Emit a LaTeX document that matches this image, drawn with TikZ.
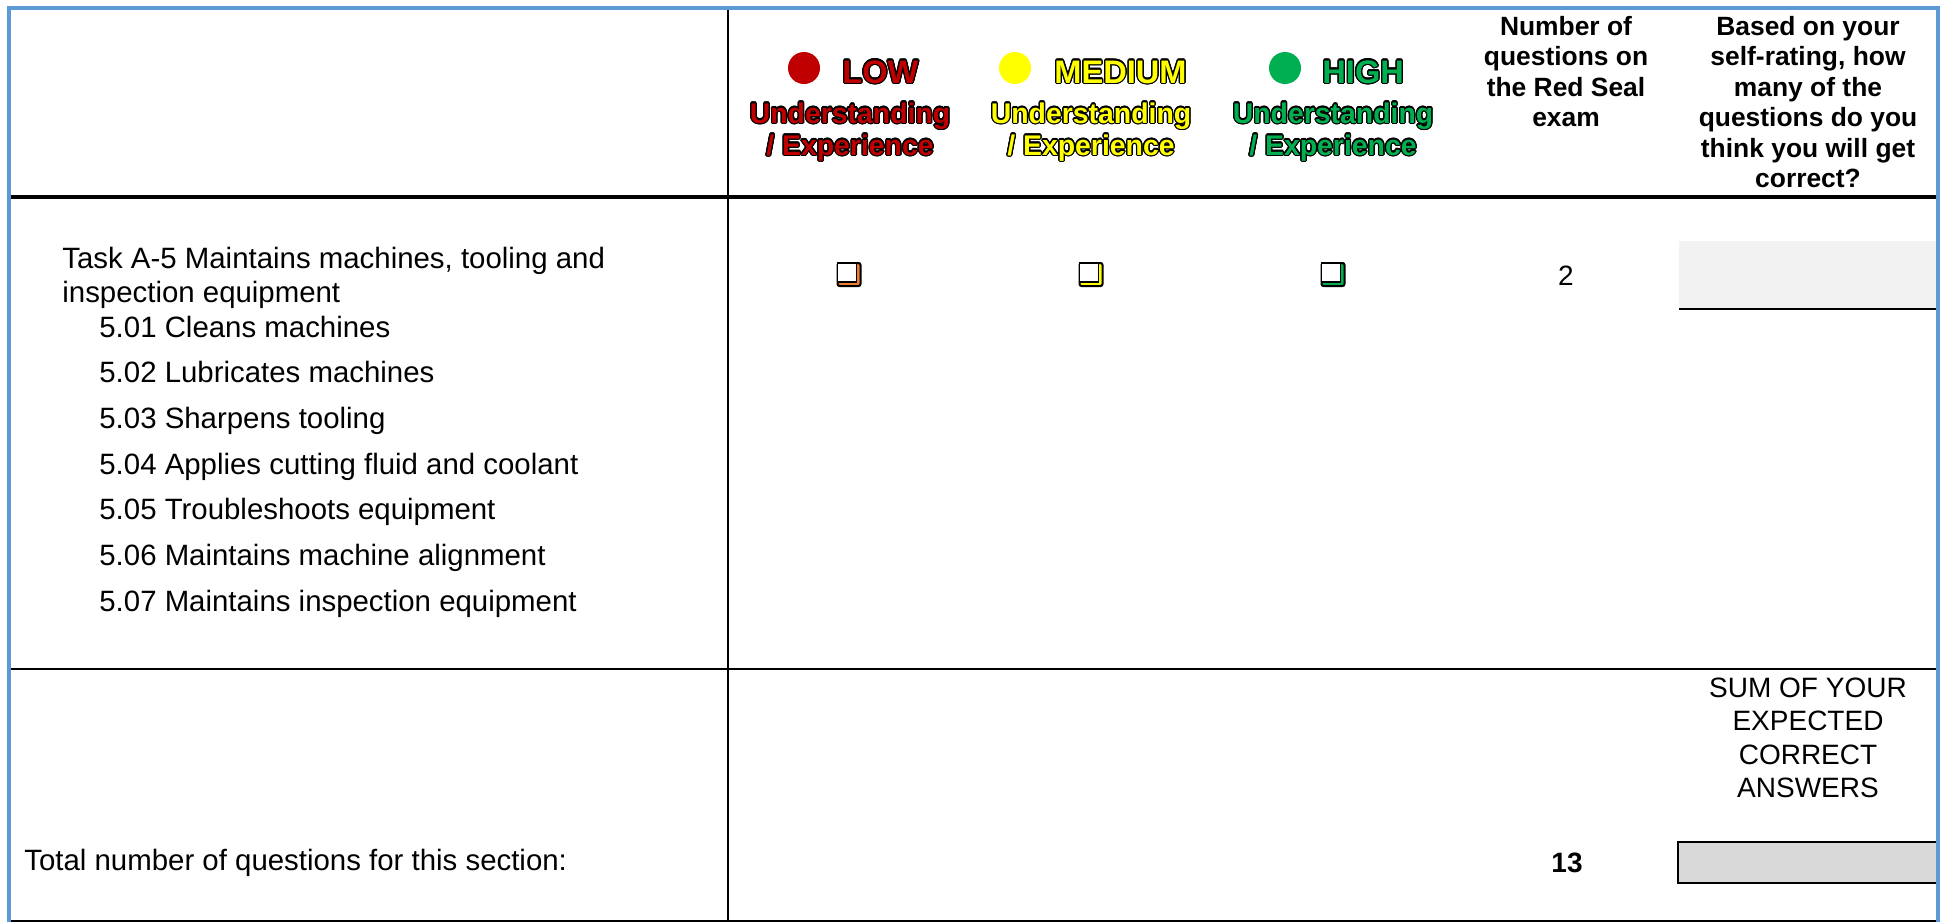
\documentclass[tikz,border=0pt]{standalone}
\usepackage{fontspec}
\setmainfont{Liberation Sans}
\usetikzlibrary{calc}
\definecolor{bord}{HTML}{5B9BD5}
\definecolor{lowred}{HTML}{C00000}
\definecolor{medyel}{HTML}{FFFF00}
\definecolor{higreen}{HTML}{00B050}
\definecolor{boxorange}{HTML}{ED7D31}
\definecolor{cellgrayA}{HTML}{F2F2F2}
\definecolor{cellgrayB}{HTML}{D9D9D9}
\tikzset{
  body/.style={font=\fontsize{14.7}{17}\selectfont, inner sep=0, anchor=base west},
  hdr/.style={font=\fontsize{13.2}{15}\selectfont\bfseries, inner sep=0, anchor=base},
  sumtxt/.style={font=\fontsize{14}{16}\selectfont, inner sep=0, anchor=base},
  oltbig/.style={font=\fontsize{16.3}{19}\selectfont\bfseries, inner sep=0},
  oltsmall/.style={font=\fontsize{14.2}{17}\selectfont\bfseries, inner sep=0},
  chkbox/.style={draw=black, line width=1pt, rounded corners=1pt, minimum size=11.5pt, inner sep=0},
  dot/.style={circle, minimum size=16pt, inner sep=0},
}
% outlined text: #1 name, #2 position, #3 anchor, #4 colour, #5 style, #6 text
\newcommand\outlinetext[6]{%
  \foreach \ang in {0,22.5,...,337.5}{%
    \node[#5, anchor=#3, text=black, shift={(\ang:1.3)}] (#1-\ang) at (#2) {#6};}
  \node[#5, anchor=#3, text=#4] (#1) at (#2) {#6};
}
% checkbox: #1 name, #2 position, #3 colour
\newcommand\checkbox[3]{%
  \node[chkbox, fill=#3] (#1) at (#2) {};
  \draw[line width=0.7pt, fill=white] ($(#1.north west)+(1,1)$) rectangle ($(#1.south east)+(-5,-5)$);
}
\begin{document}
\begin{tikzpicture}[x=0.5pt, y=-0.5pt]
\useasboundingbox (0,0) rectangle (1944,922);
% cell fills
\fill[cellgrayA] (1679,241) rectangle (1938,309);
\draw[line width=1pt] (1679,309) -- (1938,309);
\draw[line width=1pt, fill=cellgrayB] (1678,842) rectangle (1938,883);
% grid lines
\draw[line width=2.4pt] (9,197) -- (1938,197);
\draw[line width=1pt] (9,669) -- (1938,669);
\draw[line width=1pt] (9,921) -- (1938,921);
\draw[line width=1pt] (728,8) -- (728,922);
% blue frame
\draw[bord, line width=2pt] (9,922) -- (9,8) -- (1938,8) -- (1938,922);

% header: rating columns
\node[dot, fill=lowred] (dlow) at (804,68) {};
\node[dot, fill=medyel] (dmed) at (1015,68) {};
\node[dot, fill=higreen] (dhigh) at (1285,68) {};
\outlinetext{tlow}{842,83}{base west}{lowred}{oltbig}{LOW}
\outlinetext{tmed}{1054,83}{base west}{medyel}{oltbig}{MEDIUM}
\outlinetext{thigh}{1322,83}{base west}{higreen}{oltbig}{HIGH}
\outlinetext{ulow}{850,123}{base}{lowred}{oltsmall}{Understanding}
\outlinetext{elow}{850,155}{base}{lowred}{oltsmall}{/ Experience}
\outlinetext{umed}{1091,123}{base}{medyel}{oltsmall}{Understanding}
\outlinetext{emed}{1091,155}{base}{medyel}{oltsmall}{/ Experience}
\outlinetext{uhigh}{1333,123}{base}{higreen}{oltsmall}{Understanding}
\outlinetext{ehigh}{1333,155}{base}{higreen}{oltsmall}{/ Experience}

% header: number of questions
\node[hdr] (n1) at (1566,35) {Number of};
\node[hdr] (n2) at (1566,65.5) {questions on};
\node[hdr] (n3) at (1566,96) {the Red Seal};
\node[hdr] (n4) at (1566,126.5) {exam};
% header: self rating
\node[hdr] (b1) at (1808,35) {Based on your};
\node[hdr] (b2) at (1808,65.5) {self-rating, how};
\node[hdr] (b3) at (1808,96) {many of the};
\node[hdr] (b4) at (1808,126.5) {questions do you};
\node[hdr] (b5) at (1808,157) {think you will get};
\node[hdr] (b6) at (1808,187.5) {correct?};

% task row
\node[body] (t1) at (62,268) {Task A-5 Maintains machines, tooling and};
\node[body] (t2) at (62,302) {inspection equipment};
\node[body] (s1) at (99,337) {5.01 Cleans machines};
\node[body] (s2) at (99,382.5) {5.02 Lubricates machines};
\node[body] (s3) at (99,428) {5.03 Sharpens tooling};
\node[body] (s4) at (99,474) {5.04 Applies cutting fluid and coolant};
\node[body] (s5) at (99,519.5) {5.05 Troubleshoots equipment};
\node[body] (s6) at (99,565) {5.06 Maintains machine alignment};
\node[body] (s7) at (99,611) {5.07 Maintains inspection equipment};
\checkbox{c1}{849,274.5}{boxorange}
\checkbox{c2}{1091,274.5}{medyel}
\checkbox{c3}{1333,274.5}{higreen}
\node[sumtxt] (q2) at (1566,285) {2};

% total row
\node[sumtxt] (u1) at (1808,697) {SUM OF YOUR};
\node[sumtxt] (u2) at (1808,730.5) {EXPECTED};
\node[sumtxt] (u3) at (1808,764) {CORRECT};
\node[sumtxt] (u4) at (1808,797.5) {ANSWERS};
\node[body] (tot) at (24,870) {Total number of questions for this section:};
\node[sumtxt, font=\fontsize{14}{16}\selectfont\bfseries] (q13) at (1567,872) {13};
\end{tikzpicture}
\end{document}
